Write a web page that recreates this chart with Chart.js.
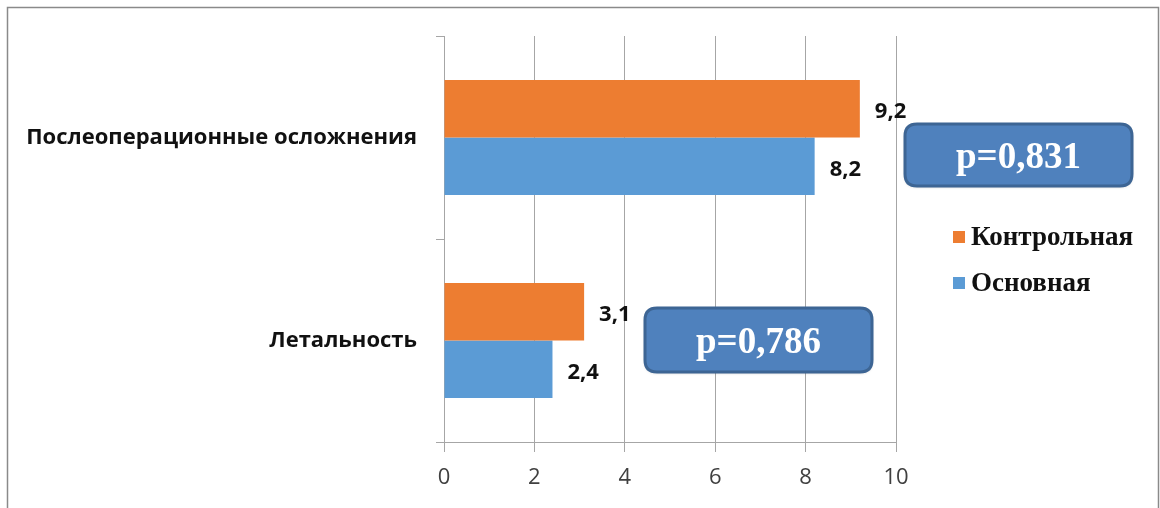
<!DOCTYPE html>
<html lang="ru">
<head>
<meta charset="utf-8">
<script src="https://cdn.jsdelivr.net/npm/chart.js@4/dist/chart.umd.min.js"></script>
<style>
  html, body { margin: 0; padding: 0; background: #fff; }
  #wrap { width: 1160px; height: 508px; position: relative; }
</style>
</head>
<body>
<div id="wrap"><canvas id="c" width="1160" height="508"></canvas></div>
<script>
// Categories and per-group percentages
const categories = ['Послеоперационные осложнения', 'Летальность'];
const seriesNames = ['Контрольная', 'Основная'];
const controlValues = [9.2, 3.1];
const mainValues = [8.2, 2.4];
const seriesColors = ['#ED7D31', '#5B9BD5'];
// p-values for each comparison
const pLabels = ['p=0,831', 'p=0,786'];

const SANS = '"Open Sans", "Liberation Sans", sans-serif';
const SERIF = '"Liberation Serif", "DejaVu Serif", serif';

const fmt = v => String(v).replace('.', ',');

// outer frame of the figure
const framePlugin = {
  id: 'frame',
  beforeDraw(chart) {
    const ctx = chart.ctx;
    ctx.save();
    ctx.fillStyle = '#fff';
    ctx.fillRect(0, 0, chart.width, chart.height);
    ctx.strokeStyle = '#8a8a8a';
    ctx.lineWidth = 1.5;
    ctx.strokeRect(7.5, 7.5, 1151, 540);
    ctx.restore();
  }
};

// value labels to the right of each bar
const valueLabels = {
  id: 'valueLabels',
  afterDatasetsDraw(chart) {
    const ctx = chart.ctx;
    ctx.save();
    ctx.font = 'bold 22px ' + SANS;
    ctx.fillStyle = '#111';
    ctx.textAlign = 'left';
    ctx.textBaseline = 'middle';
    chart.data.datasets.forEach((ds, i) => {
      chart.getDatasetMeta(i).data.forEach((el, j) => {
        ctx.fillText(fmt(ds.data[j]), el.x + 15, el.y + 3);
      });
    });
    ctx.restore();
  }
};

// rounded callouts with the p-values
function roundRect(ctx, x, y, w, h, r) {
  ctx.beginPath();
  ctx.moveTo(x + r, y);
  ctx.lineTo(x + w - r, y);
  ctx.quadraticCurveTo(x + w, y, x + w, y + r);
  ctx.lineTo(x + w, y + h - r);
  ctx.quadraticCurveTo(x + w, y + h, x + w - r, y + h);
  ctx.lineTo(x + r, y + h);
  ctx.quadraticCurveTo(x, y + h, x, y + h - r);
  ctx.lineTo(x, y + r);
  ctx.quadraticCurveTo(x, y, x + r, y);
  ctx.closePath();
}
const pBoxes = {
  id: 'pBoxes',
  afterDraw(chart) {
    const ctx = chart.ctx;
    const boxes = [
      { x: 905, y: 124, w: 227, h: 62, text: pLabels[0] },
      { x: 645, y: 308, w: 227, h: 64, text: pLabels[1] }
    ];
    ctx.save();
    boxes.forEach(b => {
      ctx.shadowColor = 'rgba(0,0,0,0.25)';
      ctx.shadowBlur = 3;
      ctx.shadowOffsetY = 1;
      roundRect(ctx, b.x, b.y, b.w, b.h, 12);
      ctx.fillStyle = '#4F81BD';
      ctx.fill();
      ctx.shadowColor = 'transparent';
      ctx.lineWidth = 3;
      ctx.strokeStyle = '#3D6594';
      ctx.stroke();
      ctx.fillStyle = '#fff';
      ctx.font = 'bold 37px ' + SERIF;
      ctx.textAlign = 'center';
      ctx.textBaseline = 'alphabetic';
      ctx.fillText(b.text, b.x + b.w / 2, b.y + b.h / 2 + 13);
    });
    ctx.restore();
  }
};

// legend on the right
const sideLegend = {
  id: 'sideLegend',
  afterDraw(chart) {
    const ctx = chart.ctx;
    ctx.save();
    ctx.font = 'bold 27px ' + SERIF;
    ctx.textAlign = 'left';
    ctx.textBaseline = 'alphabetic';
    chart.data.datasets.forEach((ds, i) => {
      const top = 231 + i * 46;
      ctx.fillStyle = ds.backgroundColor;
      ctx.fillRect(953, top, 12, 12);
      ctx.fillStyle = '#111';
      ctx.fillText(ds.label, 971, top + 14);
    });
    ctx.restore();
  }
};

new Chart(document.getElementById('c'), {
  type: 'bar',
  data: {
    labels: categories,
    datasets: [
      { label: seriesNames[0], data: controlValues, backgroundColor: seriesColors[0] },
      { label: seriesNames[1], data: mainValues, backgroundColor: seriesColors[1] }
    ]
  },
  options: {
    indexAxis: 'y',
    responsive: false,
    animation: false,
    devicePixelRatio: 1,
    categoryPercentage: 0.567,
    barPercentage: 1.0,
    layout: { padding: { top: 36, right: 264, left: 0, bottom: 0 } },
    plugins: {
      legend: { display: false },
      tooltip: { enabled: false }
    },
    scales: {
      x: {
        min: 0,
        max: 10,
        ticks: {
          stepSize: 2,
          color: '#404040',
          font: { family: SANS, size: 22 },
          padding: 13
        },
        grid: { color: '#A6A6A6', lineWidth: 1, tickLength: 10 },
        border: { color: '#A6A6A6', width: 1 },
        afterFit(s) { s.height = 66; }
      },
      y: {
        ticks: {
          color: '#111',
          font: { family: SANS, size: 22, weight: 'bold' },
          padding: 19
        },
        grid: { offset: true, drawOnChartArea: false, color: '#A6A6A6', tickLength: 8 },
        border: { color: '#A6A6A6', width: 1 },
        afterFit(s) { s.width = 444; }
      }
    }
  },
  plugins: [framePlugin, valueLabels, pBoxes, sideLegend]
});
</script>
</body>
</html>
